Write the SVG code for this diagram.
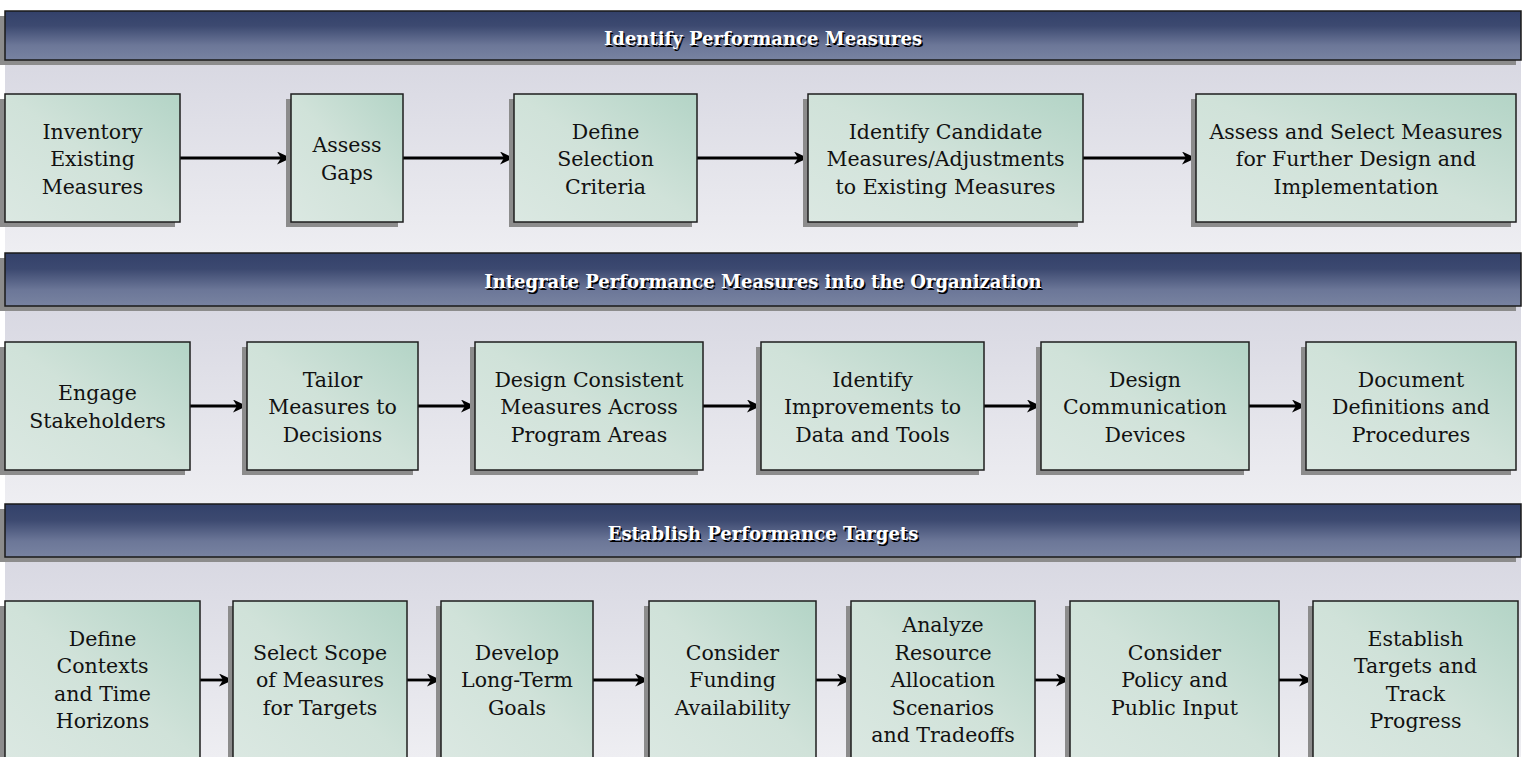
<svg xmlns="http://www.w3.org/2000/svg" width="1527" height="757" viewBox="0 0 1527 757">
  <defs>
    <linearGradient id="bandFill" x1="0" y1="0" x2="0" y2="1">
      <stop offset="0" stop-color="#33416a"/>
      <stop offset="0.3" stop-color="#3c4970"/>
      <stop offset="0.7" stop-color="#6c7798"/>
      <stop offset="1" stop-color="#7883a1"/>
    </linearGradient>
    <linearGradient id="panelFill" x1="0" y1="0" x2="0" y2="1">
      <stop offset="0" stop-color="#d8d8e2"/>
      <stop offset="1" stop-color="#eeeef2"/>
    </linearGradient>
    <linearGradient id="boxFill" x1="0" y1="1" x2="1" y2="0">
      <stop offset="0" stop-color="#dbe8e2"/>
      <stop offset="0.5" stop-color="#d0e2d9"/>
      <stop offset="1" stop-color="#b3d4c6"/>
    </linearGradient>
    <marker id="arrowHead" markerUnits="userSpaceOnUse" markerWidth="14" markerHeight="13" refX="7" refY="6.5" orient="auto">
      <path d="M0,0 L14,6.5 L0,13 L4,6.5 Z" fill="#000"/>
    </marker>
  </defs>
  <style>
    .band { fill: url(#bandFill); stroke: #1a1a1a; stroke-width: 1.5; }
    .shade { fill: #8c8c8c; }
    .panel { fill: url(#panelFill); }
    .box { fill: url(#boxFill); stroke: #1e1e1e; stroke-width: 1.5; }
    .label { font-family: "DejaVu Serif", "Liberation Serif", serif; font-size: 20.5px; fill: #111; text-anchor: middle; }
    .title { font-family: "DejaVu Serif", "Liberation Serif", serif; font-size: 18px; font-weight: bold; text-anchor: middle; }
    .title-shadow { fill: #000; }
    .title-face { fill: #fff; }
    .flow { stroke: #000; stroke-width: 2.8; fill: none; marker-end: url(#arrowHead); }
  </style>

  <rect width="1527" height="757" fill="#fff"/>

  <!-- section backgrounds -->
  <rect class="panel" x="5" y="60" width="1516" height="193"/>
  <rect class="panel" x="5" y="306" width="1516" height="198"/>
  <rect class="panel" x="5" y="557" width="1516" height="200"/>

  <!-- section headings -->
  <g id="heading-identify">
    <rect class="shade" x="0" y="16" width="1516" height="49"/>
    <rect class="band" x="5" y="11" width="1516" height="49"/>
    <text class="title title-shadow" x="764.5" y="46.5">Identify Performance Measures</text>
    <text class="title title-face" x="763" y="45">Identify Performance Measures</text>
  </g>
  <g id="heading-integrate">
    <rect class="shade" x="0" y="258" width="1516" height="53"/>
    <rect class="band" x="5" y="253" width="1516" height="53"/>
    <text class="title title-shadow" x="764.5" y="289.5">Integrate Performance Measures into the Organization</text>
    <text class="title title-face" x="763" y="288">Integrate Performance Measures into the Organization</text>
  </g>
  <g id="heading-establish">
    <rect class="shade" x="0" y="509" width="1516" height="53"/>
    <rect class="band" x="5" y="504" width="1516" height="53"/>
    <text class="title title-shadow" x="764.5" y="541.5">Establish Performance Targets</text>
    <text class="title title-face" x="763" y="540">Establish Performance Targets</text>
  </g>

  <!-- connectors -->
  <g id="connectors">
    <line class="flow" x1="180" y1="158" x2="284" y2="158"/>
    <line class="flow" x1="403" y1="158" x2="507" y2="158"/>
    <line class="flow" x1="697" y1="158" x2="801" y2="158"/>
    <line class="flow" x1="1083" y1="158" x2="1189" y2="158"/>

    <line class="flow" x1="190" y1="406" x2="240" y2="406"/>
    <line class="flow" x1="418" y1="406" x2="468" y2="406"/>
    <line class="flow" x1="703" y1="406" x2="754" y2="406"/>
    <line class="flow" x1="984" y1="406" x2="1034" y2="406"/>
    <line class="flow" x1="1249" y1="406" x2="1299" y2="406"/>

    <line class="flow" x1="200" y1="680" x2="226" y2="680"/>
    <line class="flow" x1="407" y1="680" x2="434" y2="680"/>
    <line class="flow" x1="593" y1="680" x2="642" y2="680"/>
    <line class="flow" x1="816" y1="680" x2="844" y2="680"/>
    <line class="flow" x1="1035" y1="680" x2="1063" y2="680"/>
    <line class="flow" x1="1279" y1="680" x2="1306" y2="680"/>
  </g>

  <!-- Identify Performance Measures steps -->
  <g id="inventory-existing">
    <rect class="shade" x="0" y="99" width="175" height="128"/>
    <rect class="box" x="5" y="94" width="175" height="128"/>
    <text class="label" x="92.5" y="138.5">Inventory<tspan x="92.5" dy="27.5">Existing</tspan><tspan x="92.5" dy="27.5">Measures</tspan></text>
  </g>
  <g id="assess-gaps">
    <rect class="shade" x="286" y="99" width="112" height="128"/>
    <rect class="box" x="291" y="94" width="112" height="128"/>
    <text class="label" x="347" y="152.25">Assess<tspan x="347" dy="27.5">Gaps</tspan></text>
  </g>
  <g id="define-criteria">
    <rect class="shade" x="509" y="99" width="183" height="128"/>
    <rect class="box" x="514" y="94" width="183" height="128"/>
    <text class="label" x="605.5" y="138.5">Define<tspan x="605.5" dy="27.5">Selection</tspan><tspan x="605.5" dy="27.5">Criteria</tspan></text>
  </g>
  <g id="identify-candidates">
    <rect class="shade" x="803" y="99" width="275" height="128"/>
    <rect class="box" x="808" y="94" width="275" height="128"/>
    <text class="label" x="945.5" y="138.5">Identify Candidate<tspan x="945.5" dy="27.5">Measures/Adjustments</tspan><tspan x="945.5" dy="27.5">to Existing Measures</tspan></text>
  </g>
  <g id="assess-select">
    <rect class="shade" x="1191" y="99" width="320" height="128"/>
    <rect class="box" x="1196" y="94" width="320" height="128"/>
    <text class="label" x="1356" y="138.5">Assess and Select Measures<tspan x="1356" dy="27.5">for Further Design and</tspan><tspan x="1356" dy="27.5">Implementation</tspan></text>
  </g>

  <!-- Integrate Performance Measures steps -->
  <g id="engage-stakeholders">
    <rect class="shade" x="0" y="347" width="185" height="128"/>
    <rect class="box" x="5" y="342" width="185" height="128"/>
    <text class="label" x="97.5" y="400.25">Engage<tspan x="97.5" dy="27.5">Stakeholders</tspan></text>
  </g>
  <g id="tailor-measures">
    <rect class="shade" x="242" y="347" width="171" height="128"/>
    <rect class="box" x="247" y="342" width="171" height="128"/>
    <text class="label" x="332.5" y="386.5">Tailor<tspan x="332.5" dy="27.5">Measures to</tspan><tspan x="332.5" dy="27.5">Decisions</tspan></text>
  </g>
  <g id="design-consistent">
    <rect class="shade" x="470" y="347" width="228" height="128"/>
    <rect class="box" x="475" y="342" width="228" height="128"/>
    <text class="label" x="589" y="386.5">Design Consistent<tspan x="589" dy="27.5">Measures Across</tspan><tspan x="589" dy="27.5">Program Areas</tspan></text>
  </g>
  <g id="identify-improvements">
    <rect class="shade" x="756" y="347" width="223" height="128"/>
    <rect class="box" x="761" y="342" width="223" height="128"/>
    <text class="label" x="872.5" y="386.5">Identify<tspan x="872.5" dy="27.5">Improvements to</tspan><tspan x="872.5" dy="27.5">Data and Tools</tspan></text>
  </g>
  <g id="design-communication">
    <rect class="shade" x="1036" y="347" width="208" height="128"/>
    <rect class="box" x="1041" y="342" width="208" height="128"/>
    <text class="label" x="1145" y="386.5">Design<tspan x="1145" dy="27.5">Communication</tspan><tspan x="1145" dy="27.5">Devices</tspan></text>
  </g>
  <g id="document-definitions">
    <rect class="shade" x="1301" y="347" width="210" height="128"/>
    <rect class="box" x="1306" y="342" width="210" height="128"/>
    <text class="label" x="1411" y="386.5">Document<tspan x="1411" dy="27.5">Definitions and</tspan><tspan x="1411" dy="27.5">Procedures</tspan></text>
  </g>

  <!-- Establish Performance Targets steps -->
  <g id="define-contexts">
    <rect class="shade" x="0" y="606" width="195" height="160"/>
    <rect class="box" x="5" y="601" width="195" height="160"/>
    <text class="label" x="102.5" y="645.75">Define<tspan x="102.5" dy="27.5">Contexts</tspan><tspan x="102.5" dy="27.5">and Time</tspan><tspan x="102.5" dy="27.5">Horizons</tspan></text>
  </g>
  <g id="select-scope">
    <rect class="shade" x="228" y="606" width="174" height="160"/>
    <rect class="box" x="233" y="601" width="174" height="160"/>
    <text class="label" x="320" y="659.5">Select Scope<tspan x="320" dy="27.5">of Measures</tspan><tspan x="320" dy="27.5">for Targets</tspan></text>
  </g>
  <g id="develop-goals">
    <rect class="shade" x="436" y="606" width="152" height="160"/>
    <rect class="box" x="441" y="601" width="152" height="160"/>
    <text class="label" x="517" y="659.5">Develop<tspan x="517" dy="27.5">Long-Term</tspan><tspan x="517" dy="27.5">Goals</tspan></text>
  </g>
  <g id="consider-funding">
    <rect class="shade" x="644" y="606" width="167" height="160"/>
    <rect class="box" x="649" y="601" width="167" height="160"/>
    <text class="label" x="732.5" y="659.5">Consider<tspan x="732.5" dy="27.5">Funding</tspan><tspan x="732.5" dy="27.5">Availability</tspan></text>
  </g>
  <g id="analyze-allocation">
    <rect class="shade" x="846" y="606" width="184" height="160"/>
    <rect class="box" x="851" y="601" width="184" height="160"/>
    <text class="label" x="943" y="632">Analyze<tspan x="943" dy="27.5">Resource</tspan><tspan x="943" dy="27.5">Allocation</tspan><tspan x="943" dy="27.5">Scenarios</tspan><tspan x="943" dy="27.5">and Tradeoffs</tspan></text>
  </g>
  <g id="consider-policy">
    <rect class="shade" x="1065" y="606" width="209" height="160"/>
    <rect class="box" x="1070" y="601" width="209" height="160"/>
    <text class="label" x="1174.5" y="659.5">Consider<tspan x="1174.5" dy="27.5">Policy and</tspan><tspan x="1174.5" dy="27.5">Public Input</tspan></text>
  </g>
  <g id="establish-targets">
    <rect class="shade" x="1308" y="606" width="205" height="160"/>
    <rect class="box" x="1313" y="601" width="205" height="160"/>
    <text class="label" x="1415.5" y="645.75">Establish<tspan x="1415.5" dy="27.5">Targets and</tspan><tspan x="1415.5" dy="27.5">Track</tspan><tspan x="1415.5" dy="27.5">Progress</tspan></text>
  </g>
</svg>
